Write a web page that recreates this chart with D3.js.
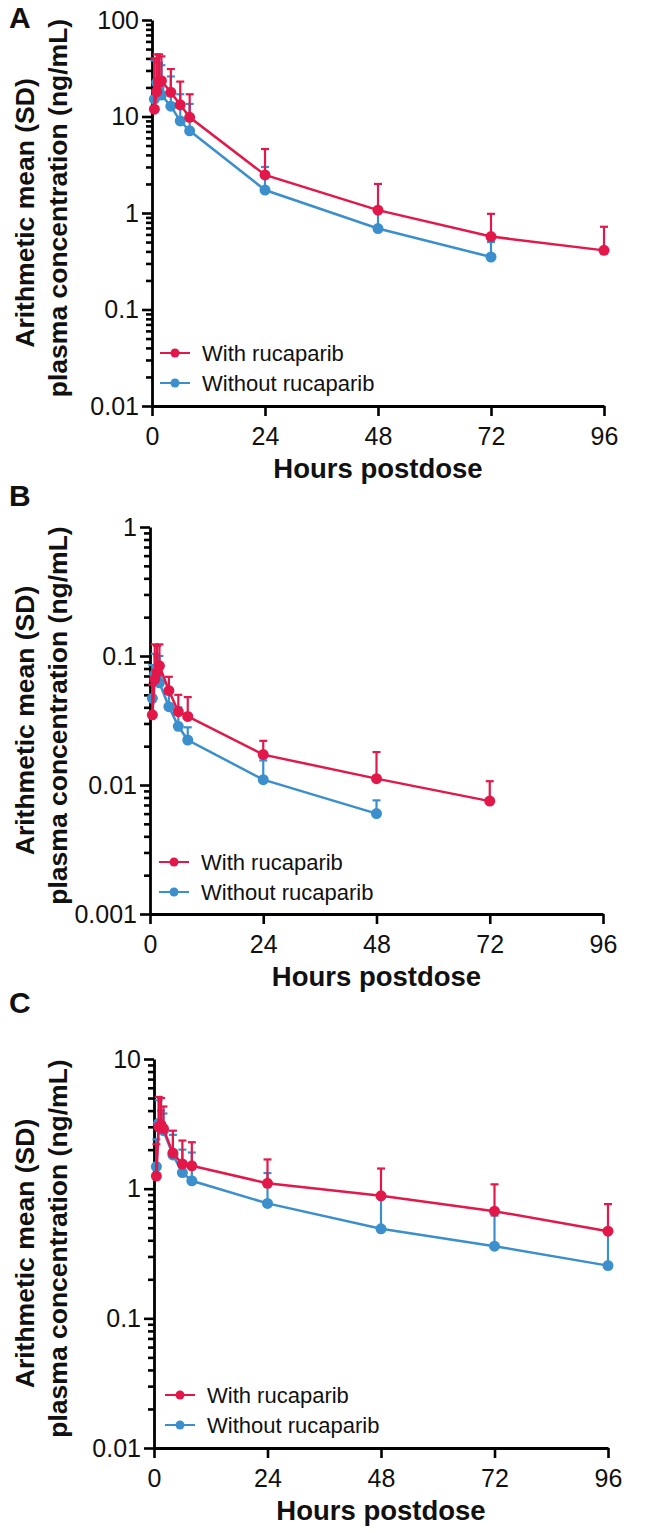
<!DOCTYPE html>
<html><head><meta charset="utf-8">
<script src="https://cdn.jsdelivr.net/npm/d3@7"></script>
<style>
body{margin:0;background:#fff;}
svg{display:block;font-family:"Liberation Sans",Arial,sans-serif;}
</style></head>
<body><svg id="chart" width="646" height="1533"></svg>
<script>
// ---------- data ----------
const seriesNames = ["With rucaparib", "Without rucaparib"];
const xTicks = [0, 24, 48, 72, 96];

const timesA_red = [0.5, 1, 1.5, 2, 4, 6, 8, 24, 48, 72, 96];
const meanA_red  = [11.9, 18.1, 22.6, 23.5, 17.8, 13.2, 9.8, 2.48, 1.07, 0.57, 0.41];
const upperA_red = [40, 44, 44, 42, 31, 23, 17, 4.6, 2.0, 0.98, 0.72];
const timesA_blue = [0.5, 1, 1.5, 2, 4, 6, 8, 24, 48, 72];
const meanA_blue  = [15.1, 22.5, 20, 16.7, 12.8, 9.0, 7.1, 1.73, 0.69, 0.35];
const upperA_blue = [38, 40, 36, 34, 26, 17, 13.5, 3.0, 1.05, 0.5];
const yTicksA = [100, 10, 1, 0.1, 0.01];

const timesB_red = [0.5, 1, 1.5, 2, 4, 6, 8, 24, 48, 72];
const meanB_red  = [0.035, 0.066, 0.075, 0.084, 0.054, 0.037, 0.034, 0.0172, 0.0112, 0.0075];
const upperB_red = [0.06, 0.123, 0.12, 0.123, 0.069, 0.05, 0.048, 0.022, 0.018, 0.0107];
const timesB_blue = [0.5, 1, 1.5, 2, 4, 6, 8, 24, 48];
const meanB_blue  = [0.047, 0.072, 0.068, 0.062, 0.0405, 0.0285, 0.0223, 0.011, 0.006];
const upperB_blue = [0.085, 0.104, 0.1, 0.1, 0.052, 0.04, 0.028, 0.0155, 0.0076];
const yTicksB = [1, 0.1, 0.01, 0.001];

const timesC_red = [0.5, 1, 1.5, 2, 4, 6, 8, 24, 48, 72, 96];
const meanC_red  = [1.25, 3.0, 3.1, 2.9, 1.88, 1.55, 1.5, 1.1, 0.88, 0.67, 0.47];
const upperC_red = [2.2, 5.1, 5.0, 4.3, 2.8, 2.35, 2.28, 1.68, 1.43, 1.08, 0.76];
const timesC_blue = [0.5, 1, 1.5, 2, 4, 6, 8, 24, 48, 72, 96];
const meanC_blue  = [1.48, 3.2, 3.0, 2.8, 1.82, 1.33, 1.15, 0.77, 0.49, 0.36, 0.255];
const upperC_blue = [2.4, 4.8, 4.0, 3.8, 2.6, 2.0, 1.9, 1.32, 0.85, 0.62, 0.46];
const yTicksC = [10, 1, 0.1, 0.01];

// ---------- style / layout ----------
const RED = "#e3184a", BLUE = "#3b8fcc";
const panels = [
  {letter:"A", x0:152, x1:604, yTop:20, yBot:406, yDom:[0.01,100], yTicks:yTicksA,
   red:[timesA_red, meanA_red, upperA_red], blue:[timesA_blue, meanA_blue, upperA_blue], legX:160, legY:353, letterY:28},
  {letter:"B", x0:150, x1:603, yTop:527, yBot:914, yDom:[0.001,1], yTicks:yTicksB,
   red:[timesB_red, meanB_red, upperB_red], blue:[timesB_blue, meanB_blue, upperB_blue], legX:159, legY:862, letterY:506},
  {letter:"C", x0:154, x1:608, yTop:1059, yBot:1448, yDom:[0.01,10], yTicks:yTicksC,
   red:[timesC_red, meanC_red, upperC_red], blue:[timesC_blue, meanC_blue, upperC_blue], legX:165, legY:1395, letterY:1013}
];

const svg = d3.select("#chart");
const fmt = v => (v >= 1 ? d3.format("d")(v) : String(v));

panels.forEach(p => {
  const g = svg.append("g");
  const x = d3.scaleLinear().domain([0, 96]).range([p.x0, p.x1]);
  const y = d3.scaleLog().domain(p.yDom).range([p.yBot, p.yTop]);

  // minor ticks
  const minors = [];
  const lo = Math.round(Math.log10(p.yDom[0])), hi = Math.round(Math.log10(p.yDom[1]));
  for (let e = lo; e < hi; e++) for (let k = 2; k <= 9; k++) minors.push(k * Math.pow(10, e));
  const minorAxis = g.append("g").attr("transform", `translate(${p.x0},0)`)
    .call(d3.axisLeft(y).tickValues(minors).tickSize(6).tickFormat(""));
  minorAxis.select(".domain").remove();
  minorAxis.selectAll("line").attr("stroke", "#000").attr("stroke-width", 2.6);

  // major y axis
  const yAx = g.append("g").attr("transform", `translate(${p.x0},0)`)
    .call(d3.axisLeft(y).tickValues(p.yTicks).tickSize(10).tickSizeOuter(0).tickPadding(3).tickFormat(fmt));
  yAx.select(".domain").attr("stroke", "#000").attr("stroke-width", 2.8);
  yAx.selectAll("line").attr("stroke", "#000").attr("stroke-width", 2.6);
  yAx.selectAll("text").attr("font-size", 25).attr("fill", "#111").attr("font-family", "Liberation Sans, Arial, sans-serif");

  // x axis
  const xAx = g.append("g").attr("transform", `translate(0,${p.yBot})`)
    .call(d3.axisBottom(x).tickValues(xTicks).tickSize(10).tickSizeOuter(0).tickPadding(11).tickFormat(d3.format("d")));
  xAx.select(".domain").attr("stroke", "#000").attr("stroke-width", 2.8);
  xAx.selectAll("line").attr("stroke", "#000").attr("stroke-width", 2.6);
  xAx.selectAll("text").attr("font-size", 25).attr("fill", "#111").attr("font-family", "Liberation Sans, Arial, sans-serif");

  // x title
  g.append("text").attr("x", (p.x0 + p.x1) / 2).attr("y", p.yBot + 72)
    .attr("text-anchor", "middle").attr("font-size", 27.5).attr("font-weight", "bold").attr("fill", "#111")
    .text("Hours postdose");

  // y title (two lines)
  const cy = (p.yTop + p.yBot) / 2;
  [["Arithmetic mean (SD)", 34, 0], ["plasma concentration (ng/mL)", 67, -5]].forEach(([t, xx, dy]) => {
    g.append("text").attr("transform", `translate(${xx},${cy + dy}) rotate(-90)`)
      .attr("text-anchor", "middle").attr("font-size", 26.5).attr("font-weight", "bold").attr("fill", "#111")
      .text(t);
  });

  // panel letter
  g.append("text").attr("x", 9).attr("y", p.letterY).attr("font-size", 30).attr("font-weight", "bold")
    .attr("fill", "#111").text(p.letter);

  // series: blue first, red on top
  [[p.blue, BLUE], [p.red, RED]].forEach(([s, col]) => {
    const data = s[0].map((t, i) => ({t, m: s[1][i], u: s[2][i]}));
    const sg = g.append("g");
    sg.selectAll("line.eb").data(data).join("line").attr("class", "eb")
      .attr("x1", d => x(d.t)).attr("x2", d => x(d.t))
      .attr("y1", d => y(d.m)).attr("y2", d => y(d.u))
      .attr("stroke", col).attr("stroke-width", 2.2);
    sg.selectAll("line.cap").data(data).join("line").attr("class", "cap")
      .attr("x1", d => x(d.t) - 4).attr("x2", d => x(d.t) + 4)
      .attr("y1", d => y(d.u)).attr("y2", d => y(d.u))
      .attr("stroke", col).attr("stroke-width", 2.2);
    sg.append("path").datum(data)
      .attr("d", d3.line().x(d => x(d.t)).y(d => y(d.m)))
      .attr("fill", "none").attr("stroke", col).attr("stroke-width", 2.5);
    sg.selectAll("circle").data(data).join("circle")
      .attr("cx", d => x(d.t)).attr("cy", d => y(d.m)).attr("r", 5.5).attr("fill", col);
  });

  // legend
  [[seriesNames[0], RED, p.legY], [seriesNames[1], BLUE, p.legY + 30]].forEach(([name, col, ly]) => {
    g.append("line").attr("x1", p.legX).attr("x2", p.legX + 30).attr("y1", ly).attr("y2", ly)
      .attr("stroke", col).attr("stroke-width", 2);
    g.append("circle").attr("cx", p.legX + 15).attr("cy", ly).attr("r", 4.5).attr("fill", col);
    g.append("text").attr("x", p.legX + 42).attr("y", ly + 8).attr("font-size", 22).attr("fill", "#111")
      .text(name);
  });
});
</script></body></html>
